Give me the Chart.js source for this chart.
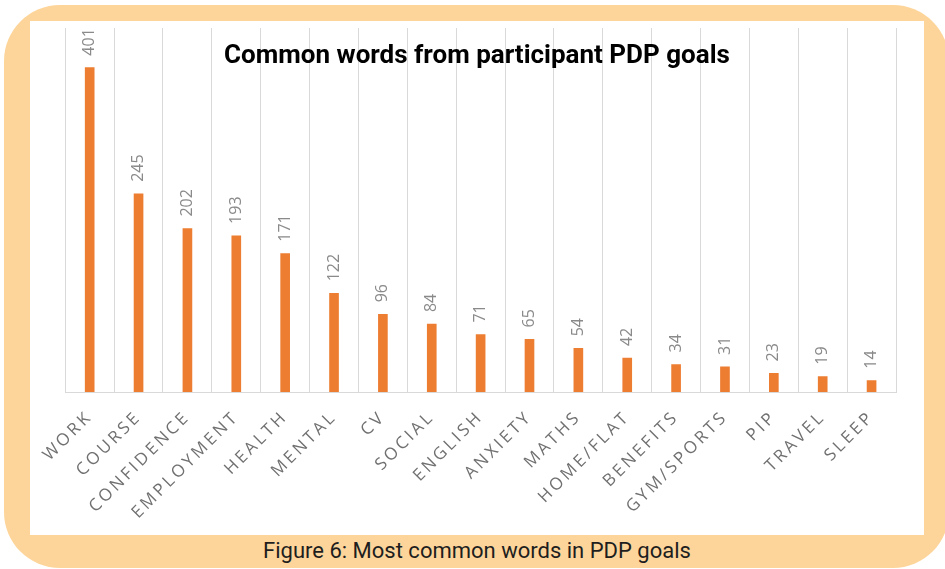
<!DOCTYPE html>
<html>
<head>
<meta charset="utf-8">
<script src="https://cdn.jsdelivr.net/npm/chart.js@4"></script>
<style>
  html, body { margin: 0; padding: 0; background: #ffffff; }
  body { width: 945px; height: 569px; position: relative; overflow: hidden; }
  #frame {
    position: absolute; left: 4px; top: 5px; width: 945px; height: 563px;
    background: #FDD59A; border-radius: 56px;
  }
  #panel {
    position: absolute; left: 30px; top: 21px; width: 894px; height: 514px;
    background: #ffffff;
  }
  #panel canvas { position: absolute; left: 0; top: 0; }
  #title {
    position: absolute; left: 0; top: 20px; width: 894px; text-align: center;
    font: bold 26px/26px Roboto, "Liberation Sans", sans-serif; color: #000;
    pointer-events: none;
  }
  #caption {
    position: absolute; left: 30px; top: 539.5px; width: 894px; text-align: center;
    font: 22px/22px Roboto, "Liberation Sans", sans-serif; color: #1e1e1e;
  }
</style>
</head>
<body>
<div id="frame"></div>
<div id="panel">
  <canvas id="chart" width="894" height="514"></canvas>
  <div id="title">Common words from participant PDP goals</div>
</div>
<div id="caption">Figure 6: Most common words in PDP goals</div>
<script>
// Words most often found in participants' PDP goals, with their counts
const words = ['WORK', 'COURSE', 'CONFIDENCE', 'EMPLOYMENT', 'HEALTH', 'MENTAL', 'CV',
  'SOCIAL', 'ENGLISH', 'ANXIETY', 'MATHS', 'HOME/FLAT', 'BENEFITS', 'GYM/SPORTS',
  'PIP', 'TRAVEL', 'SLEEP'];
const counts = [401, 245, 202, 193, 171, 122, 96, 84, 71, 65, 54, 42, 34, 31, 23, 19, 14];

// Spaced-out capitals for the category labels
const spacedTicks = {
  id: 'spacedTicks',
  beforeUpdate(chart) { chart.ctx.letterSpacing = '3px'; },
  beforeDraw(chart) { chart.ctx.letterSpacing = '3px'; }
};

// Count printed vertically above each bar
const barValues = {
  id: 'barValues',
  afterDatasetsDraw(chart) {
    const ctx = chart.ctx;
    const meta = chart.getDatasetMeta(0);
    ctx.save();
    ctx.letterSpacing = '0px';
    ctx.font = '16px "Open Sans", "Liberation Sans", sans-serif';
    ctx.fillStyle = '#8a8a8a';
    ctx.textAlign = 'left';
    ctx.textBaseline = 'middle';
    meta.data.forEach((bar, i) => {
      ctx.save();
      ctx.translate(bar.x, bar.y - 12);
      ctx.rotate(-Math.PI / 2);
      ctx.fillText(String(counts[i]), 0, 0);
      ctx.restore();
    });
    ctx.restore();
  }
};

new Chart(document.getElementById('chart'), {
  type: 'bar',
  data: {
    labels: words,
    datasets: [{
      data: counts,
      backgroundColor: '#ED7D31',
      borderWidth: 0,
      barThickness: 9
    }]
  },
  options: {
    responsive: false,
    animation: false,
    layout: { padding: { left: 33, right: 28, top: 7, bottom: 0 } },
    plugins: {
      legend: { display: false },
      title: { display: false },
      tooltip: { enabled: false }
    },
    scales: {
      x: {
        offset: true,
        grid: { display: true, color: '#d9d9d9', lineWidth: 1, drawTicks: false, offset: true },
        border: { display: true, color: '#d9d9d9' },
        ticks: {
          color: '#707070',
          font: { family: '"Open Sans", "Liberation Sans", sans-serif', size: 17 },
          minRotation: 45,
          maxRotation: 45,
          autoSkip: false,
          padding: 15
        },
        afterFit(scale) { scale.height = 143; }
      },
      y: {
        display: false,
        min: 0,
        max: 450
      }
    }
  },
  plugins: [spacedTicks, barValues]
});
</script>
</body>
</html>
